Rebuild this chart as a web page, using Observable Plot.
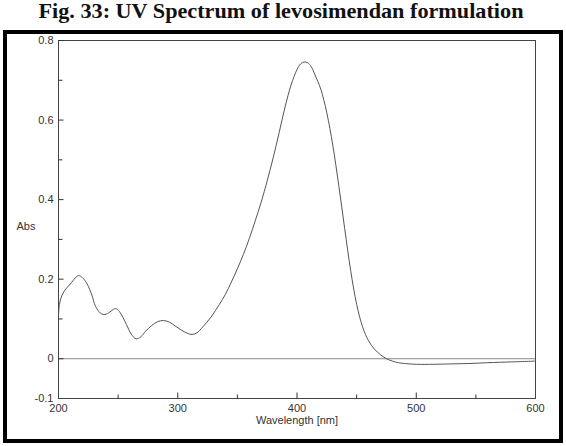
<!DOCTYPE html>
<html>
<head>
<meta charset="utf-8">
<script src="https://cdn.jsdelivr.net/npm/d3@7"></script>
<script src="https://cdn.jsdelivr.net/npm/@observablehq/plot@0.6"></script>
<style>
  html, body { margin: 0; padding: 0; background: #fff; }
  #wrap { position: relative; width: 566px; height: 446px; overflow: hidden; }
  #border { position: absolute; left: 3px; top: 30px; width: 552px; height: 405px; border: 4px solid #000; pointer-events: none; }
  #chart { position: absolute; left: 0; top: 0; }
</style>
</head>
<body>
<div id="wrap"><div id="chart"></div><div id="border"></div></div>
<script>
const title = "Fig. 33: UV Spectrum of levosimendan formulation";
const xLabel = "Wavelength [nm]";
const yLabel = "Abs";
const xDomain = [200, 600];
const yDomain = [-0.1, 0.8];
const xTickLabels = [200, 300, 400, 500, 600];
const xMajorTicks = [300, 400, 500];
const xMinorTicks = [250, 350, 450, 550];
const yTickLabels = [0.8, 0.6, 0.4, 0.2, 0, -0.1];
const yMajorTicks = [0.8, 0.6, 0.4, 0.2, 0];
const yMinorTicks = [0.7, 0.5, 0.3, 0.1];

const wavelength = [200, 201, 203, 206, 210, 214, 217, 220, 224, 228, 231, 235, 238, 242, 246, 248, 251, 254, 257, 261, 265, 269, 273, 278, 283, 288, 293, 298, 303, 308, 312, 316, 321, 328, 335, 340, 345, 350, 355, 360, 365, 370, 375, 380, 385, 390, 395, 400, 403, 406, 409, 412, 415, 420, 425, 430, 435, 440, 445, 450, 455, 460, 465, 470, 475, 480, 485, 490, 500, 515, 530, 545, 560, 580, 600];
const absorbance = [0.11, 0.14, 0.16, 0.175, 0.188, 0.203, 0.209, 0.204, 0.188, 0.16, 0.132, 0.115, 0.111, 0.115, 0.124, 0.126, 0.119, 0.104, 0.086, 0.062, 0.05, 0.055, 0.069, 0.083, 0.093, 0.096, 0.092, 0.082, 0.072, 0.064, 0.061, 0.065, 0.08, 0.105, 0.137, 0.162, 0.193, 0.226, 0.262, 0.302, 0.347, 0.394, 0.447, 0.505, 0.568, 0.633, 0.688, 0.727, 0.741, 0.746, 0.744, 0.734, 0.714, 0.677, 0.618, 0.537, 0.436, 0.327, 0.222, 0.137, 0.08, 0.045, 0.024, 0.01, 0.0, -0.006, -0.01, -0.012, -0.014, -0.014, -0.013, -0.012, -0.01, -0.008, -0.006];

const data = wavelength.map((w, i) => ({w, a: absorbance[i]}));
const ink = "#333";

const W = 566, H = 446, mL = 58, mR = 31, mT = 40, mB = 48;
// convert a tick length in pixels into data units along each axis
const xPerPx = (xDomain[1] - xDomain[0]) / (W - mL - mR);
const yPerPx = (yDomain[1] - yDomain[0]) / (H - mT - mB);

const yTick = (ticks, len) => Plot.link(ticks, {x1: () => xDomain[0], x2: () => xDomain[0] + len * xPerPx, y1: d => d, y2: d => d, stroke: ink, strokeWidth: 1});
const xTick = (ticks, len) => Plot.link(ticks, {x1: d => d, x2: d => d, y1: () => yDomain[0], y2: () => yDomain[0] + len * yPerPx, stroke: ink, strokeWidth: 1});

const plot = Plot.plot({
  width: W,
  height: H,
  marginLeft: mL,
  marginRight: mR,
  marginTop: mT,
  marginBottom: mB,
  style: {fontFamily: "'Liberation Sans', Arial, sans-serif", fontSize: "11px", color: ink, background: "transparent", overflow: "visible"},
  x: {domain: xDomain},
  y: {domain: yDomain},
  marks: [
    Plot.ruleY([0], {stroke: "#8a8a8a", strokeWidth: 1}),
    Plot.frame({stroke: "#444"}),
    yTick(yMajorTicks, 5),
    yTick(yMinorTicks, 4),
    xTick(xMajorTicks, 6),
    xTick(xMinorTicks, 4),
    Plot.axisX({ticks: xTickLabels, tickSize: 0, tickPadding: 6, tickFormat: d => String(d), label: null, fill: ink}),
    Plot.axisY({ticks: yTickLabels, tickSize: 0, tickPadding: 5, tickFormat: d => String(d), label: null, fill: ink}),
    Plot.text([xLabel], {frameAnchor: "bottom", dy: 25.5, text: d => d, fill: ink}),
    Plot.text([yLabel], {frameAnchor: "left", dx: -42, dy: 6.5, textAnchor: "start", text: d => d, fill: ink}),
    Plot.line(data, {x: "w", y: "a", curve: "catmull-rom", stroke: "#555", strokeWidth: 1}),
    Plot.text([title], {frameAnchor: "top", dx: -16, dy: -23, lineAnchor: "bottom", text: d => d, fill: "#111",
      fontFamily: "'Liberation Serif', 'Times New Roman', serif", fontSize: 21, fontWeight: "bold"})
  ]
});
document.getElementById("chart").appendChild(plot);
d3.select(plot).selectAll("text").filter(function() { return this.textContent === title; })
  .attr("textLength", 485).attr("lengthAdjust", "spacingAndGlyphs");
</script>
</body>
</html>
